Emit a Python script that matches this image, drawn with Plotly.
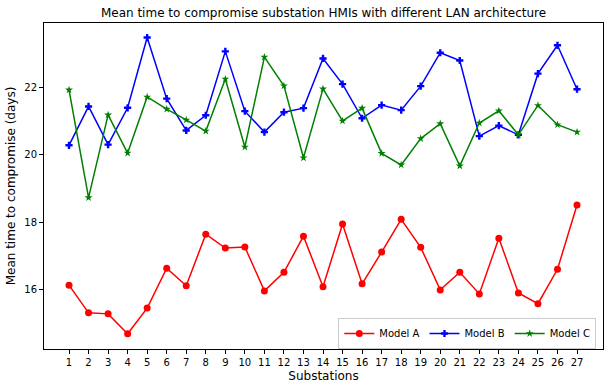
import plotly.graph_objects as go

substations = list(range(1, 28))
model_a = [16.14, 15.32, 15.29, 14.70, 15.46, 16.64, 16.12, 17.65, 17.24, 17.27,
           15.97, 16.52, 17.59, 16.09, 17.95, 16.18, 17.12, 18.09, 17.26, 16.00,
           16.52, 15.88, 17.53, 15.91, 15.59, 16.61, 18.51]
model_b = [20.28, 21.43, 20.30, 21.39, 23.47, 21.66, 20.72, 21.17, 23.06, 21.29,
           20.67, 21.26, 21.38, 22.85, 22.09, 21.08, 21.47, 21.32, 22.03, 23.02,
           22.79, 20.55, 20.86, 20.59, 22.40, 23.24, 21.94]
model_c = [21.92, 18.73, 21.18, 20.05, 21.71, 21.35, 21.03, 20.70, 22.24, 20.23,
           22.89, 22.04, 19.91, 21.95, 21.00, 21.38, 20.04, 19.70, 20.48, 20.92,
           19.67, 20.94, 21.30, 20.59, 21.46, 20.89, 20.67]
y_ticks = [16, 18, 20, 22]

fig = go.Figure()
fig.add_trace(go.Scatter(x=substations, y=model_a, name="Model A", mode="lines+markers",
                         line=dict(color="red", width=1.5),
                         marker=dict(symbol="circle", size=7, color="red")))
fig.add_trace(go.Scatter(x=substations, y=model_b, name="Model B", mode="lines+markers",
                         line=dict(color="blue", width=1.5),
                         marker=dict(symbol="cross", size=6, color="blue")))
fig.add_trace(go.Scatter(x=substations, y=model_c, name="Model C", mode="lines+markers",
                         line=dict(color="green", width=1.5),
                         marker=dict(symbol="star", size=6, color="green")))

fig.update_layout(
    width=612, height=390,
    margin=dict(l=44, r=9, t=23, b=41),
    paper_bgcolor="white", plot_bgcolor="white",
    font=dict(family="DejaVu Sans", size=10, color="black"),
    title=dict(text="Mean time to compromise substation HMIs with different LAN architecture",
               x=0.5, xref="paper", xanchor="center",
               y=1 - 13 / 390, yref="container", yanchor="middle",
               font=dict(size=12)),
    showlegend=True,
    legend=dict(orientation="h", x=0.988, xanchor="right", y=0.0, yanchor="bottom",
                bordercolor="#cccccc", borderwidth=1, bgcolor="white",
                font=dict(size=10), itemwidth=30),
)
fig.update_xaxes(range=[-0.28, 28.33], tickvals=substations,
                 ticktext=[str(s) for s in substations], automargin=False,
                 showgrid=False, zeroline=False, showline=True, mirror=True,
                 linecolor="black", linewidth=1, ticks="outside", ticklen=4,
                 tickcolor="black",
                 title=dict(text="Substations", font=dict(size=12), standoff=4))
fig.update_yaxes(range=[14.25, 23.9], tickvals=y_ticks, automargin=False,
                 showgrid=False, zeroline=False, showline=True, mirror=True,
                 linecolor="black", linewidth=1, ticks="outside", ticklen=4,
                 tickcolor="black",
                 title=dict(text="Mean time to compromise (days)", font=dict(size=12), standoff=6))

fig.write_html("out.html", config={"displayModeBar": False},
               post_script="document.body.style.margin='0';document.body.style.overflow='hidden';")
